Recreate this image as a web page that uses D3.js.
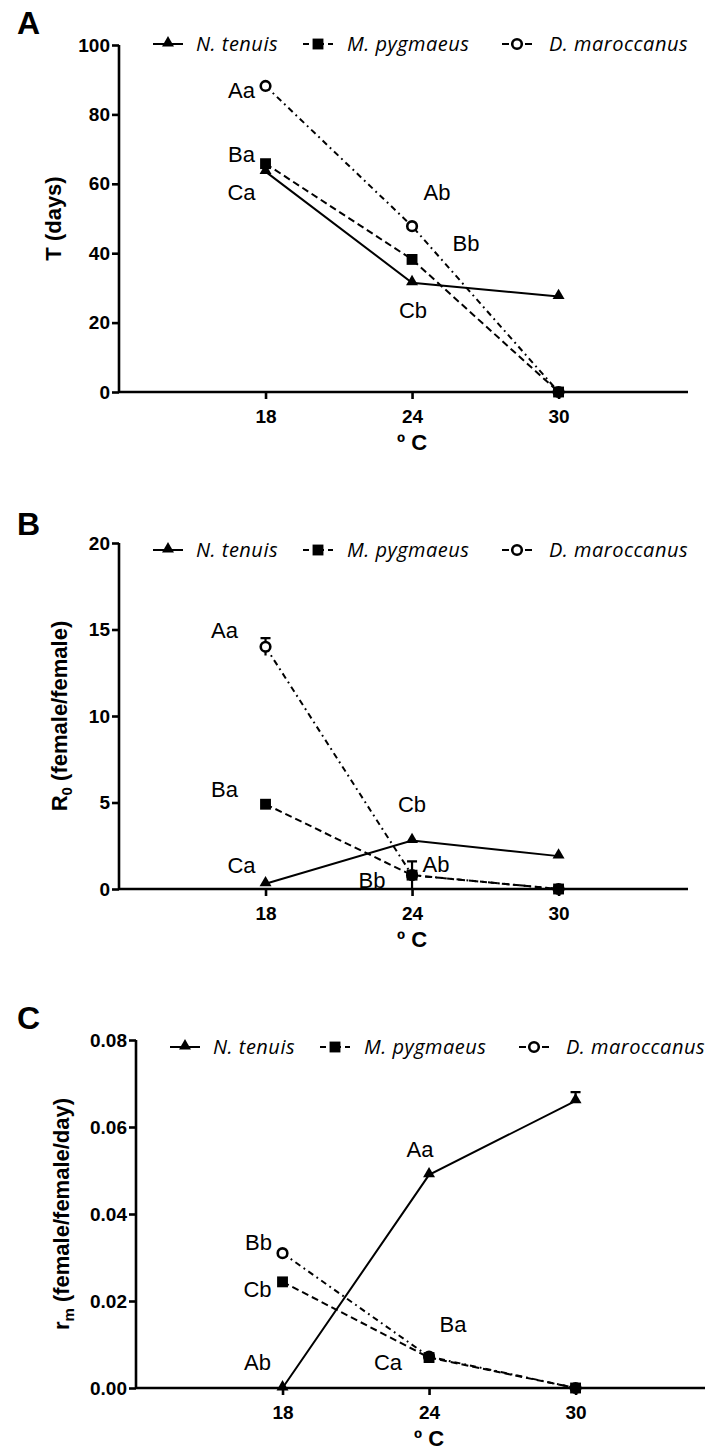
<!DOCTYPE html>
<html>
<head>
<meta charset="utf-8">
<script src="https://cdn.jsdelivr.net/npm/d3@7"></script>
<style>
  body { margin: 0; background: #fff; }
  svg { display: block; }
</style>
</head>
<body>
<div id="chart"></div>
<script>
var svgWidth = 713;
var svgHeight = 1452;

// temperatures (x) and species
var temps = [18, 24, 30];
var species = ["N. tenuis", "M. pygmaeus", "D. maroccanus"];

// A: mean generation time T (days)
var tNtenuis = [63.5, 31.5, 27.5];
var tMpygmaeus = [65.8, 38.2, 0];
var tDmaroccanus = [88.2, 47.8, 0];
var tTicks = [0, 20, 40, 60, 80, 100];

// B: net reproductive rate R0
var r0Ntenuis = [0.3, 2.8, 1.9];
var r0Mpygmaeus = [4.9, 0.8, 0];
var r0Dmaroccanus = [14.0, 0.8, 0];
var r0DmaroccanusErr = [0.5, 0.8, 0];
var r0Ticks = [0, 5, 10, 15, 20];

// C: intrinsic rate of increase rm
var rmNtenuis = [0, 0.049, 0.066];
var rmNtenuisErr = [0, 0, 0.002];
var rmMpygmaeus = [0.0244, 0.007, 0];
var rmDmaroccanus = [0.031, 0.0072, 0];
var rmTicks = [0, 0.02, 0.04, 0.06, 0.08];

// significance letters per species, per temperature
var tLetters = [["Ca", "Cb", ""], ["Ba", "Bb", ""], ["Aa", "Ab", ""]];
var r0Letters = [["Ca", "Cb", ""], ["Ba", "Bb", ""], ["Aa", "Ab", ""]];
var rmLetters = [["Ab", "Aa", ""], ["Cb", "Ca", ""], ["Bb", "Ba", ""]];

var font = "'Liberation Sans', Arial, sans-serif";

var svg = d3.select("#chart").append("svg")
  .attr("width", svgWidth)
  .attr("height", svgHeight);

// line style per species
var dashes = [null, "7,4", "6,4,1.8,4"];

function marker(g, i, x, y) {
  if (i == 0) {
    g.append("path")
      .attr("d", d3.symbol().type(d3.symbolTriangle).size(62)())
      .attr("transform", "translate(" + x + "," + (y - 1) + ")")
      .attr("fill", "#000");
  } else if (i == 1) {
    g.append("path")
      .attr("d", d3.symbol().type(d3.symbolSquare).size(118)())
      .attr("transform", "translate(" + x + "," + y + ")")
      .attr("fill", "#000");
  } else {
    g.append("circle")
      .attr("cx", x).attr("cy", y).attr("r", 4.8)
      .attr("fill", "#fff").attr("stroke", "#000").attr("stroke-width", 2.6);
  }
}

function drawPanel(p) {
  var x = d3.scaleLinear().domain([12, 35.3]).range([p.left, p.right]);
  var y = d3.scaleLinear().domain([p.ticks[0], p.ticks[p.ticks.length - 1]]).range([p.bottom, p.top]);
  var g = svg.append("g");

  // panel letter
  g.append("text").attr("x", 17).attr("y", p.letterY)
    .style("font-family", font).style("font-weight", "bold").style("font-size", "32px")
    .text(p.letter);

  // axes
  var yAxis = d3.axisLeft(y).tickValues(p.ticks).tickSize(7).tickPadding(2).tickFormat(p.fmt);
  var xAxis = d3.axisBottom(x).tickValues(temps).tickSize(7).tickPadding(11).tickFormat(d3.format("d"));

  var ya = g.append("g").attr("transform", "translate(" + p.left + ",0)").call(yAxis);
  var xa = g.append("g").attr("transform", "translate(0," + p.bottom + ")").call(xAxis);
  [ya, xa].forEach(function(a) {
    a.select(".domain").attr("stroke-width", 2.6);
    a.selectAll(".tick line").attr("stroke-width", 2.6);
    a.selectAll("text").style("font-family", font).style("font-weight", "bold")
      .style("font-size", "19px").attr("fill", "#000");
  });
  // plain axis lines without end caps
  ya.select(".domain").attr("d", "M0," + p.top + "V" + p.bottom);
  xa.select(".domain").attr("d", "M" + p.left + ",0H" + p.right);

  // axis titles
  var yt = g.append("text")
    .attr("transform", "translate(" + p.titleX + "," + ((p.top + p.bottom) / 2) + ") rotate(-90)")
    .attr("text-anchor", "middle")
    .style("font-family", font).style("font-weight", "bold").style("font-size", "22px");
  yt.append("tspan").text(p.yMain);
  if (p.ySub) {
    yt.append("tspan").attr("dy", 5).style("font-size", "15px").text(p.ySub);
    yt.append("tspan").attr("dy", -5).text(p.yRest);
  }

  g.append("text").attr("x", x(24)).attr("y", p.bottom + 58)
    .attr("text-anchor", "middle")
    .style("font-family", font).style("font-weight", "bold").style("font-size", "22px")
    .text("º C");

  // lines
  var line = d3.line().x(function(d, i) { return x(temps[i]); }).y(function(d) { return y(d); });
  p.series.forEach(function(s, i) {
    g.append("path").datum(s)
      .attr("d", line)
      .attr("fill", "none").attr("stroke", "#000").attr("stroke-width", 2)
      .attr("stroke-dasharray", dashes[i]);
  });

  // error bars (upper half only when e.up)
  p.errors.forEach(function(e) {
    var s = p.series[e.i];
    e.err.forEach(function(v, j) {
      if (!v) return;
      var cx = x(temps[j]);
      var lo = e.up ? s[j] : s[j] - v;
      g.append("path")
        .attr("d", "M" + cx + "," + y(lo) + "V" + y(s[j] + v) + "M" + (cx - 5) + "," + y(s[j] + v) + "H" + (cx + 5))
        .attr("stroke", "#000").attr("stroke-width", 2.2).attr("fill", "none");
    });
  });

  // markers: triangles, then circles, then squares on top
  [0, 2, 1].forEach(function(i) {
    p.series[i].forEach(function(v, j) { marker(g, i, x(temps[j]), y(v)); });
  });

  // significance letters
  p.letters.forEach(function(row, i) {
    row.forEach(function(txt, j) {
      if (!txt) return;
      var off = p.offsets[i][j];
      g.append("text")
        .attr("x", x(temps[j]) + off[0]).attr("y", y(p.series[i][j]) + off[1])
        .attr("text-anchor", "middle")
        .style("font-family", font).style("font-size", "22px")
        .text(txt);
    });
  });

  // legend
  var lx = [p.left + 49, p.left + 199, p.left + 398];
  var tx = [p.left + 77, p.left + 228, p.left + 430];
  species.forEach(function(name, i) {
    g.append("line")
      .attr("x1", lx[i] - 15).attr("x2", lx[i] + 15)
      .attr("y1", p.legendY).attr("y2", p.legendY)
      .attr("stroke", "#000").attr("stroke-width", 2)
      .attr("stroke-dasharray", i == 0 ? null : (i == 1 ? "6,4,0,7,4,4" : "7,16,7"));
    marker(g, i, lx[i], p.legendY);
    g.append("text").attr("x", tx[i]).attr("y", p.legendY + 7)
      .style("font-family", "'Open Sans', sans-serif").style("font-style", "italic")
      .style("font-size", "20px").style("letter-spacing", "0.5px")
      .text(name);
  });
}

drawPanel({
  letter: "A", letterY: 34,
  left: 119, right: 688, top: 45, bottom: 392,
  ticks: tTicks, fmt: d3.format("d"),
  titleX: 61, yMain: "T (days)",
  series: [tNtenuis, tMpygmaeus, tDmaroccanus],
  errors: [],
  letters: tLetters,
  offsets: [[[-24, 28], [1, 35]], [[-24, -2], [54, -8]], [[-24, 12], [25, -26]]],
  legendY: 44
});

drawPanel({
  letter: "B", letterY: 535,
  left: 119, right: 688, top: 543, bottom: 889,
  ticks: r0Ticks, fmt: d3.format("d"),
  titleX: 67, yMain: "R", ySub: "0", yRest: " (female/female)",
  series: [r0Ntenuis, r0Mpygmaeus, r0Dmaroccanus],
  errors: [{ i: 2, err: r0DmaroccanusErr, up: false }],
  letters: r0Letters,
  offsets: [[[-24, -11], [0, -29]], [[-41, -7], [-40, 13]], [[-41, -9], [24, -3]]],
  legendY: 550
});

drawPanel({
  letter: "C", letterY: 1029,
  left: 136, right: 705, top: 1040, bottom: 1388,
  ticks: rmTicks, fmt: d3.format(".2f"),
  titleX: 69, yMain: "r", ySub: "m", yRest: " (female/female/day)",
  series: [rmNtenuis, rmMpygmaeus, rmDmaroccanus],
  errors: [{ i: 0, err: rmNtenuisErr, up: true }],
  letters: rmLetters,
  offsets: [[[-25, -18], [-9, -18]], [[-25, 15], [-41, 12]], [[-24, -3], [24, -25]]],
  legendY: 1047
});
</script>
</body>
</html>
